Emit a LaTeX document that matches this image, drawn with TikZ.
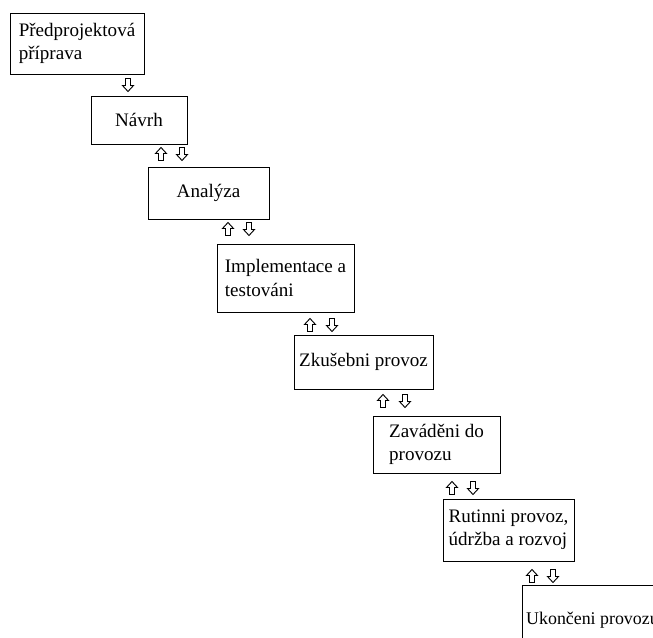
\documentclass[tikz,border=0pt]{standalone}
\usepackage{fontspec}
\setmainfont{Liberation Serif}
\begin{document}
\begin{tikzpicture}[x=0.75pt,y=-0.75pt,
  box/.style={draw=black, line width=0.7pt, fill=white, rectangle, inner sep=0pt,
    align=left, font=\fontsize{14.3}{17.3}\selectfont},
  uparr/.pic={\draw[fill=white, line width=0.7pt, line join=miter]
    (0,-6.5) -- (5.5,-0.5) -- (2.5,-0.5) -- (2.5,6.5) -- (-2.5,6.5) -- (-2.5,-0.5) -- (-5.5,-0.5) -- cycle;},
  downarr/.pic={\draw[fill=white, line width=0.7pt, line join=miter]
    (0,6.5) -- (5.5,0.5) -- (2.5,0.5) -- (2.5,-6.5) -- (-2.5,-6.5) -- (-2.5,0.5) -- (-5.5,0.5) -- cycle;}
]
\useasboundingbox (0,0) rectangle (653,638);
\clip (0,0) rectangle (653,638);
\fill[white] (0,0) rectangle (653,638);

\node[box, minimum width=134*0.75pt, minimum height=61*0.75pt] (b1) at (77,43.5) {Předprojektová\\příprava};
\node[box, minimum width=96*0.75pt, minimum height=48*0.75pt] (b2) at (139,120) {Návrh};
\node[box, minimum width=121*0.75pt, minimum height=52*0.75pt] (b3) at (208.5,193) {Analýza};
\node[box, minimum width=137*0.75pt, minimum height=68*0.75pt] (b4) at (285.5,278) {Implementace a\\testováni};
\node[box, minimum width=139*0.75pt, minimum height=54*0.75pt] (b5) at (363.5,362) {Zkušebni provoz};
\node[box, minimum width=127*0.75pt, minimum height=57*0.75pt] (b6) at (436.5,444.5) {Zaváděni do\\provozu};
\node[box, minimum width=131*0.75pt, minimum height=62*0.75pt] (b7) at (508.5,530) {Rutinni provoz,\\údržba a rozvoj};
\node[box, anchor=north west, inner xsep=0.2pt, minimum width=140*0.75pt, minimum height=70*0.75pt,
  font=\fontsize{13.4}{16}\selectfont] (b8) at (522,585) {Ukončeni provozu};

\pic at (128,85) {downarr};
\pic at (161,154) {uparr};
\pic at (182,154) {downarr};
\pic at (228,229) {uparr};
\pic at (249,229) {downarr};
\pic at (310,325) {uparr};
\pic at (332,325) {downarr};
\pic at (383,401) {uparr};
\pic at (405,401) {downarr};
\pic at (452,488) {uparr};
\pic at (473,488) {downarr};
\pic at (532,576) {uparr};
\pic at (553,576) {downarr};
\end{tikzpicture}
\end{document}
